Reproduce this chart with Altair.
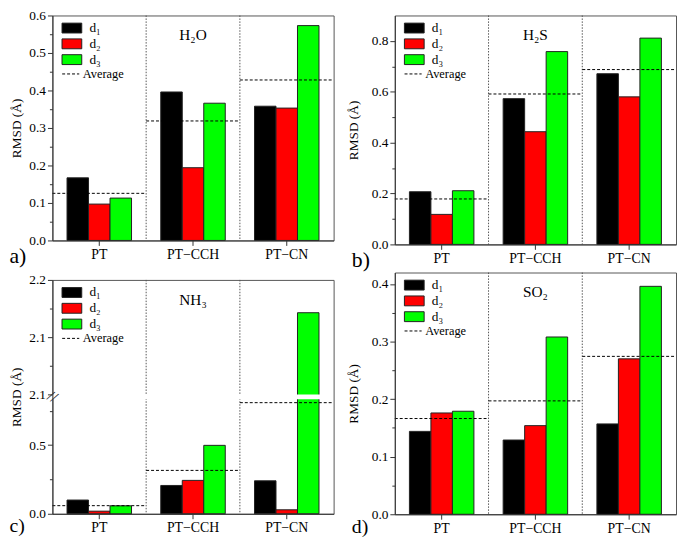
import altair as alt
import pandas as pd

FONT = "Liberation Serif"

groups = ["PT", "PT\u2212CCH", "PT\u2212CN"]
series = ["d\u2081", "d\u2082", "d\u2083"]
colors = ["#000000", "#ff0000", "#00ff00"]

# a) H2O
h2o_d1 = [0.167, 0.396, 0.358]
h2o_d2 = [0.097, 0.194, 0.353]
h2o_d3 = [0.113, 0.366, 0.573]
# b) H2S
h2s_d1 = [0.207, 0.573, 0.671]
h2s_d2 = [0.118, 0.443, 0.580]
h2s_d3 = [0.211, 0.758, 0.811]
# c) NH3 (broken axis)
nh3_d1 = [0.100, 0.206, 0.240]
nh3_d2 = [0.019, 0.243, 0.029]
nh3_d3 = [0.058, 0.498, 2.157]
# d) SO2
so2_d1 = [0.144, 0.129, 0.157]
so2_d2 = [0.176, 0.154, 0.270]
so2_d3 = [0.179, 0.308, 0.396]

# y axis ticks
a_major = [0.0, 0.1, 0.2, 0.3, 0.4, 0.5, 0.6]
a_minor = [0.05, 0.15, 0.25, 0.35, 0.45, 0.55]
b_major = [0.0, 0.2, 0.4, 0.6, 0.8]
b_minor = [0.1, 0.3, 0.5, 0.7]
c_major = [0.0, 0.5, 2.05, 2.125, 2.2]
c_minor = [0.25, 0.75, 2.0875, 2.1625]
d_major = [0.0, 0.1, 0.2, 0.3, 0.4]
d_minor = [0.05, 0.15, 0.25, 0.35]

# broken axis of panel c
c_break = [0.833, 2.05]

W = 285


def make_panel(mol, letter, d1, d2, d3, domain, major, minor, h, title_pad,
               letter_y=22, letter_size=22, rng=None, brk=None):
    df = pd.DataFrame({
        "group": groups * 3,
        "series": [s for s in series for _ in groups],
        "value": d1 + d2 + d3,
    })
    minor_js = "[" + ",".join(repr(v) for v in minor) + "]"
    is_minor = f"indexof({minor_js}, datum.value) >= 0"
    if rng is None:
        yscale = alt.Scale(domain=domain, nice=False, zero=False)
    else:
        yscale = alt.Scale(domain=domain, range=rng, nice=False, zero=False)
    yaxis = alt.Axis(
        values=major + minor,
        labelExpr=f"{is_minor} ? '' : format(datum.value + 0.00001, '.1f')",
        tickSize={"condition": {"test": is_minor, "value": 3}, "value": 5},
        grid=False, labelFont=FONT, labelFontSize=13.5, labelPadding=2,
        labelColor="black", tickColor="#333", domainColor="#333",
        title="RMSD (\u00c5)", titleFont=FONT, titleFontSize=13.5,
        titleFontWeight="normal", titleColor="black",
        titlePadding=title_pad, zindex=1,
    )
    xscale = alt.Scale(domain=groups, paddingInner=0, paddingOuter=0)
    xaxis = alt.Axis(
        title=letter, titleX=-44, titleY=letter_y, titleAlign="left",
        titleBaseline="alphabetic", titleFont=FONT, titleFontSize=letter_size,
        titleFontWeight="normal", titleColor="black",
        labelAngle=0, labelFont=FONT, labelFontSize=14, labelColor="black",
        labelPadding=2, tickSize=5, tickColor="#333", domainColor="#333",
        zindex=1,
    )

    base = alt.Chart(df)
    dividers = alt.Chart(pd.DataFrame({"group": groups[1:]})).mark_rule(
        color="#555", strokeDash=[1.5, 1.5], strokeWidth=1
    ).encode(x=alt.X("group:N", scale=xscale, axis=xaxis, bandPosition=0))

    bars = base.mark_bar(stroke="#222", strokeWidth=1).encode(
        x=alt.X("group:N", scale=xscale, axis=xaxis),
        xOffset=alt.XOffset("series:N", sort=series,
                            scale=alt.Scale(paddingInner=0, paddingOuter=0.68)),
        y=alt.Y("value:Q", scale=yscale, axis=yaxis),
        fill=alt.Fill("series:N", sort=series,
                      scale=alt.Scale(domain=series, range=colors),
                      legend=alt.Legend(
                          title=None, orient="none", legendX=13, legendY=6,
                          symbolType="M-2,-1H2V1H-2Z", symbolSize=100,
                          symbolStrokeColor="#222", symbolStrokeWidth=1,
                          symbolOpacity=1,
                          labelFont=FONT, labelFontSize=13.5, labelOffset=11,
                          labelColor="black", rowPadding=1, padding=0)),
    )

    avg = base.transform_aggregate(
        avg="mean(value)", groupby=["group"]
    ).transform_calculate(kind="'Average'").mark_rule(
        color="black", strokeWidth=1
    ).encode(
        x=alt.X("group:N", scale=xscale, axis=xaxis, bandPosition=0),
        x2=alt.X2("group:N", bandPosition=1),
        y=alt.Y("avg:Q", scale=yscale, axis=yaxis),
        strokeDash=alt.StrokeDash(
            "kind:N", scale=alt.Scale(domain=["Average"], range=[[3, 2]]),
            legend=alt.Legend(
                title=None, orient="none", legendX=12.3, legendY=53,
                symbolType="M-2,0H2", symbolSize=75,
                symbolStrokeColor="black", symbolStrokeWidth=1,
                labelFont=FONT, labelFontSize=12.5, labelOffset=6,
                labelColor="black", padding=0)),
    )

    label = alt.Chart(pd.DataFrame({"group": [groups[1]], "t": [mol]})).mark_text(
        font=FONT, fontSize=15.5, baseline="middle", color="black"
    ).encode(x=alt.X("group:N", scale=xscale, axis=xaxis),
             y=alt.value(20), text="t:N")

    layers = [dividers, bars, avg]
    if brk is not None:
        bdf = pd.DataFrame({"g0": [groups[0]], "g1": [groups[-1]],
                            "lo": [brk[0]], "hi": [brk[1]],
                            "mid": [(brk[0] + brk[1]) / 2], "s": ["//"]})
        gap = alt.Chart(bdf).mark_rect(fill="white").encode(
            x=alt.X("g0:N", scale=xscale, axis=xaxis, bandPosition=0),
            x2=alt.X2("g1:N", bandPosition=0.99),
            y=alt.Y("lo:Q", scale=yscale, axis=yaxis),
            y2="hi:Q",
        )
        marks = alt.Chart(bdf).mark_text(
            font=FONT, fontSize=16, angle=30, color="#222",
            baseline="middle", align="center"
        ).encode(
            x=alt.X("g0:N", scale=xscale, axis=xaxis, bandPosition=0),
            y=alt.Y("mid:Q", scale=yscale, axis=yaxis),
            text="s:N",
        )
        layers += [gap, marks]
    layers.append(label)
    return alt.layer(*layers).properties(width=W, height=h)


pa = make_panel("H\u2082O", "a)", h2o_d1, h2o_d2, h2o_d3, [0, 0.6],
                a_major, a_minor, 228, 5)
pb = make_panel("H\u2082S", "b)", h2s_d1, h2s_d2, h2s_d3, [0, 0.9],
                b_major, b_minor, 232, 11)
pc = make_panel("NH\u2083", "c)", nh3_d1, nh3_d2, nh3_d3,
                [0, c_break[0], c_break[1], 2.2], c_major, c_minor, 237, 5,
                letter_y=18, letter_size=20,
                rng=[237, 121, 116, 0], brk=c_break)
pd_ = make_panel("SO\u2082", "d)", so2_d1, so2_d2, so2_d3, [0, 0.42],
                 d_major, d_minor, 245, 11, letter_y=18, letter_size=20)

indep = dict(fill="independent", strokeDash="independent")
col1 = alt.vconcat(pa, pc, spacing=5).resolve_scale(**indep).resolve_legend(**indep)
col2 = alt.vconcat(pb, pd_, spacing=0.5).resolve_scale(**indep).resolve_legend(**indep)

chart = alt.hconcat(col1, col2, spacing=11).resolve_scale(**indep).resolve_legend(
    **indep
).properties(
    padding={"left": 0, "top": -4, "right": 0, "bottom": 0}
).configure_view(
    stroke="#555", strokeWidth=1
).configure_axis(
    labelFont=FONT, titleFont=FONT, labelColor="black", titleColor="black",
    domainColor="#333", tickColor="#333"
).configure_legend(
    labelFont=FONT
).configure_text(font=FONT)

chart.save("out.html", embed_options={"renderer": "svg", "actions": False})
